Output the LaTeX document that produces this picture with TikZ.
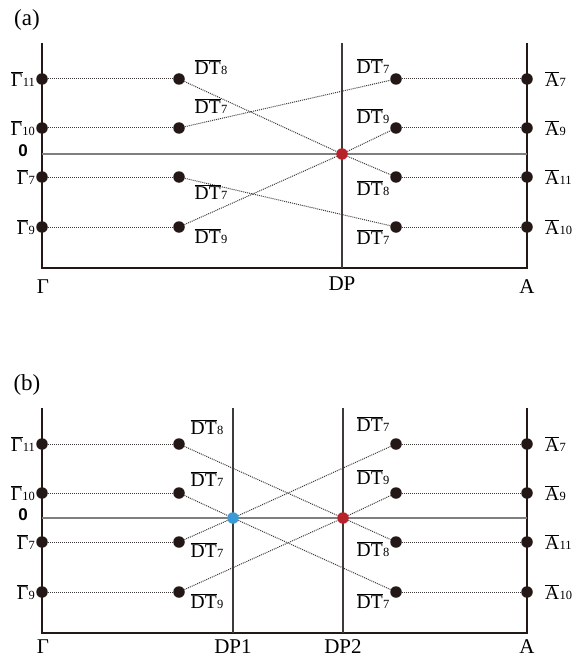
\documentclass[tikz,border=0pt]{standalone}
\usepackage{fontspec}
\setmainfont{Liberation Serif}
\newfontfamily\zerofont{Liberation Sans}
\definecolor{ink}{HTML}{231815}
\definecolor{axisgray}{HTML}{3E3A39}
\definecolor{zerogray}{HTML}{7F7F7F}
\definecolor{dotline}{HTML}{3E3A39}
\definecolor{dpred}{HTML}{B8232B}
\definecolor{dpblue}{HTML}{3A9AD6}
\tikzset{frame/.style={draw=ink, line width=1.5pt}}
\tikzset{zero/.style={draw=zerogray, line width=1.3pt}}
\tikzset{dpline/.style={draw=axisgray, line width=1.5pt}}
\tikzset{band/.style={circle, fill=ink, inner sep=0pt, minimum size=11.5pt}}
\tikzset{link/.style={draw=dotline, line width=1pt, dash pattern=on 1pt off 1pt}}
\tikzset{lbl/.style={font=\fontsize{19.5}{22}\selectfont, inner sep=0pt}}
\tikzset{kpt/.style={font=\fontsize{21}{24}\selectfont, inner sep=0pt}}
\tikzset{panel/.style={font=\fontsize{23}{26}\selectfont, inner sep=0pt}}
\newcommand{\barlab}[2]{$\overline{\mbox{#1}}$\kern0.3pt{\fontsize{12.5}{12}\selectfont #2}}

\begin{document}
\begin{tikzpicture}[x=1pt, y=-1pt]
    \useasboundingbox (0,0) rectangle (575,658);

    % (a)
    \node[panel] (pa) at (27,20) {(a)};
    \coordinate (aTL) at (42,43);
    \coordinate (aBL) at (42,268);
    \coordinate (aBR) at (527,268);
    \coordinate (aTR) at (527,43);
    \coordinate (aZL) at (42,154);
    \coordinate (aZR) at (527,154);
    \coordinate (aDT) at (342,43);
    \coordinate (aDB) at (342,268);

    \draw[frame] (aTL) -- (aBL) -- (aBR) -- (aTR);
    \draw[zero] (aZL) -- (aZR);
    \draw[dpline] (aDT) -- (aDB);

    \node[lbl, font=\zerofont\bfseries\fontsize{17}{20}\selectfont] (aO) at (23,151) {0};

    \node[band, label={[lbl, label distance=1pt]left:\barlab{Γ}{11}}] (aG11) at (42,79) {};
    \node[band, label={[lbl, label distance=1pt]left:\barlab{Γ}{10}}] (aG10) at (42,128) {};
    \node[band, label={[lbl, label distance=1pt]left:\barlab{Γ}{7}}]  (aG7)  at (42,177) {};
    \node[band, label={[lbl, label distance=1pt]left:\barlab{Γ}{9}}]  (aG9)  at (42,227) {};

    \node[band] (aL1) at (179,79) {};
    \node[band] (aL2) at (179,128) {};
    \node[band] (aL3) at (179,177) {};
    \node[band] (aL4) at (179,227) {};

    \node[band] (aR1) at (396,79) {};
    \node[band] (aR2) at (396,128) {};
    \node[band] (aR3) at (396,177) {};
    \node[band] (aR4) at (396,227) {};

    \node[band, label={[lbl, label distance=12pt]right:\barlab{A}{7}}]  (aA7)  at (527,79) {};
    \node[band, label={[lbl, label distance=12pt]right:\barlab{A}{9}}]  (aA9)  at (527,128) {};
    \node[band, label={[lbl, label distance=12pt]right:\barlab{A}{11}}] (aA11) at (527,177) {};
    \node[band, label={[lbl, label distance=12pt]right:\barlab{A}{10}}] (aA10) at (527,227) {};

    \node[band, fill=dpred] (aP) at (342,154) {};

    \draw[link] (aG11) -- (aL1);
    \draw[link] (aG10) -- (aL2);
    \draw[link] (aG7) -- (aL3);
    \draw[link] (aG9) -- (aL4);
    \draw[link] (aR1) -- (aA7);
    \draw[link] (aR2) -- (aA9);
    \draw[link] (aR3) -- (aA11);
    \draw[link] (aR4) -- (aA10);
    \draw[link] (aL1) -- (aP) -- (aR3);
    \draw[link] (aL2) -- (aR1);
    \draw[link] (aL3) -- (aR4);
    \draw[link] (aL4) -- (aP) -- (aR2);

    \node[lbl] (aT1) at (211,67)  {\barlab{DT}{8}};
    \node[lbl] (aT2) at (211,106) {\barlab{DT}{7}};
    \node[lbl] (aT3) at (211,192) {\barlab{DT}{7}};
    \node[lbl] (aT4) at (211,236) {\barlab{DT}{9}};
    \node[lbl] (aU1) at (373,66)  {\barlab{DT}{7}};
    \node[lbl] (aU2) at (373,116) {\barlab{DT}{9}};
    \node[lbl] (aU3) at (373,188) {\barlab{DT}{8}};
    \node[lbl] (aU4) at (373,237) {\barlab{DT}{7}};

    \node[kpt] (aGam) at (43,287)  {Γ};
    \node[kpt] (aDP)  at (342,284) {DP};
    \node[kpt] (aA)   at (527,287) {A};

    % (b)
    \node[panel] (pb) at (27,385) {(b)};
    \coordinate (bTL) at (42,408);
    \coordinate (bBL) at (42,633);
    \coordinate (bBR) at (527,633);
    \coordinate (bTR) at (527,408);
    \coordinate (bZL) at (42,518);
    \coordinate (bZR) at (527,518);
    \coordinate (bDT1) at (233,408);
    \coordinate (bDB1) at (233,633);
    \coordinate (bDT2) at (343,408);
    \coordinate (bDB2) at (343,633);

    \draw[frame] (bTL) -- (bBL) -- (bBR) -- (bTR);
    \draw[zero] (bZL) -- (bZR);
    \draw[dpline] (bDT1) -- (bDB1);
    \draw[dpline] (bDT2) -- (bDB2);

    \node[lbl, font=\zerofont\bfseries\fontsize{17}{20}\selectfont] (bO) at (23,515) {0};

    \node[band, label={[lbl, label distance=1pt]left:\barlab{Γ}{11}}] (bG11) at (42,444) {};
    \node[band, label={[lbl, label distance=1pt]left:\barlab{Γ}{10}}] (bG10) at (42,493) {};
    \node[band, label={[lbl, label distance=1pt]left:\barlab{Γ}{7}}]  (bG7)  at (42,542) {};
    \node[band, label={[lbl, label distance=1pt]left:\barlab{Γ}{9}}]  (bG9)  at (42,592) {};

    \node[band] (bL1) at (179,444) {};
    \node[band] (bL2) at (179,493) {};
    \node[band] (bL3) at (179,542) {};
    \node[band] (bL4) at (179,592) {};

    \node[band] (bR1) at (396,444) {};
    \node[band] (bR2) at (396,493) {};
    \node[band] (bR3) at (396,542) {};
    \node[band] (bR4) at (396,592) {};

    \node[band, label={[lbl, label distance=12pt]right:\barlab{A}{7}}]  (bA7)  at (527,444) {};
    \node[band, label={[lbl, label distance=12pt]right:\barlab{A}{9}}]  (bA9)  at (527,493) {};
    \node[band, label={[lbl, label distance=12pt]right:\barlab{A}{11}}] (bA11) at (527,542) {};
    \node[band, label={[lbl, label distance=12pt]right:\barlab{A}{10}}] (bA10) at (527,592) {};

    \node[band, fill=dpblue] (bP1) at (233,518) {};
    \node[band, fill=dpred]  (bP2) at (343,518) {};

    \draw[link] (bG11) -- (bL1);
    \draw[link] (bG10) -- (bL2);
    \draw[link] (bG7) -- (bL3);
    \draw[link] (bG9) -- (bL4);
    \draw[link] (bR1) -- (bA7);
    \draw[link] (bR2) -- (bA9);
    \draw[link] (bR3) -- (bA11);
    \draw[link] (bR4) -- (bA10);
    \draw[link] (bL1) -- (bP2) -- (bR3);
    \draw[link] (bL2) -- (bP1) -- (bR4);
    \draw[link] (bL3) -- (bP1) -- (bR1);
    \draw[link] (bL4) -- (bP2) -- (bR2);

    \node[lbl] (bT1) at (207,427) {\barlab{DT}{8}};
    \node[lbl] (bT2) at (207,479) {\barlab{DT}{7}};
    \node[lbl] (bT3) at (207,550) {\barlab{DT}{7}};
    \node[lbl] (bT4) at (207,601) {\barlab{DT}{9}};
    \node[lbl] (bU1) at (373,424) {\barlab{DT}{7}};
    \node[lbl] (bU2) at (373,477) {\barlab{DT}{9}};
    \node[lbl] (bU3) at (373,549) {\barlab{DT}{8}};
    \node[lbl] (bU4) at (373,601) {\barlab{DT}{7}};

    \node[kpt] (bGam) at (43,647)  {Γ};
    \node[kpt] (bDP1) at (233,647) {DP1};
    \node[kpt] (bDP2) at (343,647) {DP2};
    \node[kpt] (bA)   at (527,647) {A};

\end{tikzpicture}
\end{document}
